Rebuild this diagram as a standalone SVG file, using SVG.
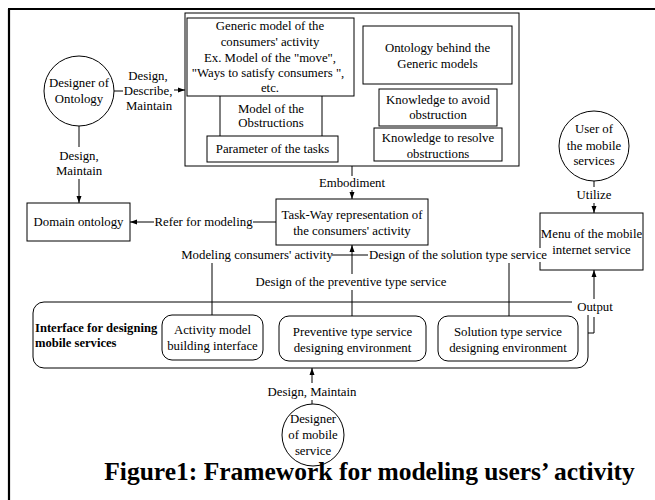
<svg xmlns="http://www.w3.org/2000/svg" width="655" height="500" viewBox="0 0 655 500">
<style>
text{font-family:"Liberation Serif","Times New Roman",serif;font-size:12.8px;text-anchor:middle;dominant-baseline:central;fill:#000}
.b{font-weight:bold;text-anchor:start;font-size:12.6px}
.title{font-weight:bold;font-size:25.5px;dominant-baseline:alphabetic}
.box{fill:#fff;stroke:#000;stroke-width:1}
.ln{fill:none;stroke:#000;stroke-width:1}
.bg{fill:#fff;stroke:none}
</style>
<defs>
<marker id="ah" markerUnits="userSpaceOnUse" markerWidth="8" markerHeight="6" refX="7" refY="3" orient="auto">
<path d="M0,0.5 L7,3 L0,5.5 z" fill="#000"/>
</marker>
</defs>
<rect width="655" height="500" fill="#fff"/>
<path d="M8,9 H655 M9,9 V500" stroke="#000" stroke-width="2.2" fill="none"/>

<g id="knowledge-models">
<rect class="box" x="185" y="13" width="334" height="153"/>
<g id="generic-model">
<rect class="box" x="187" y="18" width="167" height="78"/>
<text x="270" y="26">Generic model of the</text>
<text x="270" y="42">consumers' activity</text>
<text x="270" y="58">Ex. Model of the "move",</text>
<text x="268" y="73">"Ways to satisfy consumers ",</text>
<text x="270" y="88">etc.</text>
</g>
<g id="model-obstructions">
<path class="ln" d="M220,96 V136 M322,96 V136"/>
<text x="271" y="109">Model of the</text>
<text x="271" y="123">Obstructions</text>
</g>
<g id="parameter-tasks">
<rect class="box" x="207" y="136" width="131" height="26"/>
<text x="272.5" y="149">Parameter of the tasks</text>
</g>
<g id="ontology-behind">
<rect class="box" x="363" y="26" width="149" height="58"/>
<text x="437.5" y="48">Ontology behind the</text>
<text x="437.5" y="64">Generic models</text>
</g>
<g id="knowledge-avoid">
<rect class="box" x="379" y="89" width="118" height="37"/>
<text x="438" y="100">Knowledge to avoid</text>
<text x="438" y="115">obstruction</text>
</g>
<g id="knowledge-resolve">
<rect class="box" x="374" y="128" width="128" height="33"/>
<text x="438" y="138">Knowledge to resolve</text>
<text x="438" y="154">obstructions</text>
</g>
</g>

<g id="designer-ontology">
<circle class="box" cx="79" cy="91" r="35"/>
<text x="79" y="83">Designer of</text>
<text x="79" y="99">Ontology</text>
</g>

<g id="domain-ontology">
<rect class="box" x="27" y="203" width="103" height="38"/>
<text x="78.5" y="222">Domain ontology</text>
</g>

<g id="task-way">
<rect class="box" x="276" y="199" width="152" height="46"/>
<text x="352" y="215">Task-Way representation of</text>
<text x="352" y="231">the consumers' activity</text>
</g>

<g id="user-mobile">
<circle class="box" cx="594" cy="146" r="35"/>
<text x="594" y="129">User of</text>
<text x="594" y="146">the mobile</text>
<text x="594" y="161">services</text>
</g>

<g id="menu-mobile">
<rect class="box" x="540" y="213" width="103" height="57"/>
<text x="591.5" y="234">Menu of the mobile</text>
<text x="591.5" y="250">internet service</text>
</g>

<g id="interface">
<rect class="box" x="33" y="302" width="555" height="66" rx="11"/>
<text class="b" x="35" y="328">Interface for designing</text>
<text class="b" x="35" y="343">mobile services</text>
</g>
<g id="activity-interface">
<rect class="box" x="162" y="315" width="101" height="45" rx="10"/>
<text x="212.5" y="330">Activity model</text>
<text x="212.5" y="346">building interface</text>
</g>
<g id="preventive-env">
<rect class="box" x="279" y="316" width="147" height="45" rx="10"/>
<text x="352.5" y="332">Preventive type service</text>
<text x="352.5" y="348">designing environment</text>
</g>
<g id="solution-env">
<rect class="box" x="438" y="316" width="140" height="45" rx="10"/>
<text x="508" y="332">Solution type service</text>
<text x="508" y="348">designing environment</text>
</g>

<g id="designer-mobile">
<ellipse class="box" cx="313" cy="435" rx="31" ry="31"/>
<text x="313" y="419">Designer</text>
<text x="313" y="435">of mobile</text>
<text x="313" y="451">service</text>
</g>

<g id="connectors">
<line class="ln" x1="114" y1="91" x2="123" y2="91"/>
<text x="148" y="76">Design,</text>
<text x="148" y="91">Describe,</text>
<text x="149" y="106">Maintain</text>
<line class="ln" x1="174" y1="90" x2="185" y2="90" marker-end="url(#ah)"/>

<line class="ln" x1="79" y1="126" x2="79" y2="147"/>
<text x="79" y="156">Design,</text>
<text x="79" y="171">Maintain</text>
<line class="ln" x1="79" y1="179" x2="79" y2="203" marker-end="url(#ah)"/>

<line class="ln" x1="276" y1="222" x2="253" y2="222"/>
<text x="203.5" y="222">Refer for modeling</text>
<line class="ln" x1="154" y1="222" x2="130" y2="222" marker-end="url(#ah)"/>

<line class="ln" x1="352" y1="166" x2="352" y2="176"/>
<text x="352" y="183">Embodiment</text>
<line class="ln" x1="352" y1="190" x2="352" y2="199" marker-end="url(#ah)"/>

<line class="ln" x1="594" y1="181" x2="594" y2="187"/>
<text x="594" y="195">Utilize</text>
<line class="ln" x1="594" y1="203" x2="594" y2="213" marker-end="url(#ah)"/>

<line class="ln" x1="212" y1="263" x2="212" y2="315"/>
<text x="257" y="255">Modeling consumers' activity</text>
<line class="ln" x1="332" y1="255" x2="368" y2="255"/>
<rect class="bg" x="368" y="248" width="180" height="14"/>
<text x="458" y="255">Design of the solution type service</text>
<line class="ln" x1="509" y1="263" x2="509" y2="316"/>
<line class="ln" x1="352" y1="274" x2="352" y2="245" marker-end="url(#ah)"/>
<text x="351" y="282">Design of the preventive type service</text>
<line class="ln" x1="352" y1="290" x2="352" y2="316"/>

<path class="ln" d="M588,333 H594 V317"/>
<rect class="bg" x="572" y="299" width="45" height="16"/>
<text x="595" y="307">Output</text>
<line class="ln" x1="594" y1="299" x2="594" y2="270" marker-end="url(#ah)"/>

<line class="ln" x1="312" y1="383" x2="312" y2="368" marker-end="url(#ah)"/>
<text x="312" y="392">Design, Maintain</text>
<line class="ln" x1="312" y1="400" x2="312" y2="404"/>
</g>

<text class="title" x="369.5" y="480">Figure1: Framework for modeling users’ activity</text>
</svg>
